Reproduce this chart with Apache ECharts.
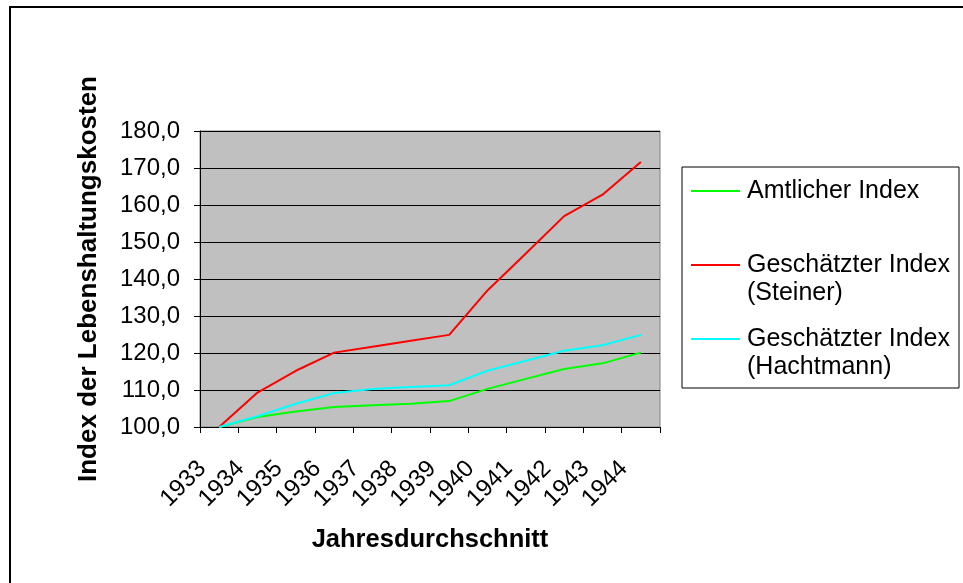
<!DOCTYPE html>
<html>
<head>
<meta charset="utf-8">
<script src="https://cdn.jsdelivr.net/npm/echarts@6/dist/echarts.min.js"></script>
<style>
  html, body { margin: 0; padding: 0; background: #fff; }
  #main { width: 963px; height: 583px; }
</style>
</head>
<body>
<div id="main"></div>
<script>
// Jahre (Kategorien)
var years = ['1933', '1934', '1935', '1936', '1937', '1938', '1939', '1940', '1941', '1942', '1943', '1944'];
// Amtlicher Index
var amtlich = [100.0, 102.7, 104.2, 105.4, 105.9, 106.3, 107.0, 110.3, 113.0, 115.7, 117.2, 120.1];
// Geschaetzter Index (Steiner)
var steiner = [100.0, 109.3, 115.2, 120.1, 121.7, 123.3, 124.9, 136.9, 146.9, 157.0, 162.8, 171.6];
// Geschaetzter Index (Hachtmann)
var hachtmann = [100.0, 102.9, 106.3, 109.2, 110.3, 110.8, 111.3, 115.2, 117.9, 120.6, 122.1, 124.9];

var seriesNames = ['Amtlicher Index', 'Geschätzter Index (Steiner)', 'Geschätzter Index (Hachtmann)'];
var font = '"Liberation Sans", Arial, sans-serif';

var chart = echarts.init(document.getElementById('main'));

function legendAt(name, top){
  return {
    data: [name],
    orient: 'vertical',
    left: 691,
    top: top,
    padding: 0,
    icon: 'rect',
    itemWidth: 49,
    itemHeight: 2,
    itemGap: 0,
    selectedMode: false,
    formatter: function(n){ return n.split(' (')[0]; },
    textStyle: { fontFamily: font, fontSize: 25, color: '#000', lineHeight: 28, padding: [0, 0, 0, 2] }
  };
}

var option = {
  animation: false,
  backgroundColor: '#fff',
  grid: {
    left: 200, top: 131, width: 460, height: 296,
    show: true,
    backgroundColor: '#c0c0c0',
    borderColor: '#808080',
    borderWidth: 1
  },
  legend: [
    legendAt(seriesNames[0], 177),
    legendAt(seriesNames[1], 251),
    legendAt(seriesNames[2], 325)
  ],
  xAxis: {
    type: 'category',
    data: years,
    boundaryGap: true,
    name: 'Jahresdurchschnitt',
    nameLocation: 'middle',
    nameGap: 100,
    nameTextStyle: { fontFamily: font, fontSize: 25.5, fontWeight: 'bold', color: '#000' },
    axisLine: { lineStyle: { color: '#000', width: 1 } },
    axisTick: { show: true, length: 6, lineStyle: { color: '#000' } },
    axisLabel: {
      interval: 0,
      rotate: 45,
      margin: 21,
      padding: [0, 24, 32, 0],
      fontFamily: font, fontSize: 24, color: '#000'
    },
    splitLine: { show: false }
  },
  yAxis: {
    type: 'value',
    min: 100,
    max: 180,
    interval: 10,
    name: 'Index der Lebenshaltungskosten',
    nameLocation: 'middle',
    nameGap: 98,
    nameTextStyle: { fontFamily: font, fontSize: 26, fontWeight: 'bold', color: '#000' },
    axisLine: { show: true, lineStyle: { color: '#000', width: 1 } },
    axisTick: { show: true, length: 6, lineStyle: { color: '#000' } },
    axisLabel: {
      margin: 20,
      fontFamily: font, fontSize: 24, color: '#000',
      formatter: function(v){ return v.toFixed(1).replace('.', ','); }
    },
    splitLine: { show: true, lineStyle: { color: '#000', width: 1 } }
  },
  series: [
    { name: seriesNames[0], type: 'line', data: amtlich, symbol: 'none', color: '#00ff00', lineStyle: { width: 2, color: '#00ff00' } },
    { name: seriesNames[1], type: 'line', data: steiner, symbol: 'none', color: '#ff0000', lineStyle: { width: 2, color: '#ff0000' } },
    { name: seriesNames[2], type: 'line', data: hachtmann, symbol: 'none', color: '#00ffff', lineStyle: { width: 2, color: '#00ffff' } }
  ],
  graphic: [
    // aeusserer Rahmen
    { type: 'rect', z: -1, shape: { x: 10, y: 7, width: 1000, height: 1000 }, style: { fill: 'none', stroke: '#000', lineWidth: 2 } },
    // Legendenrahmen
    { type: 'rect', z: -1, shape: { x: 682, y: 167, width: 277, height: 221 }, style: { fill: '#fff', stroke: '#000', lineWidth: 1 } },
    // zweite Zeilen der Legende
    { type: 'text', left: 747, top: 281, style: { text: '(Steiner)', font: '25px ' + font, fill: '#000' } },
    { type: 'text', left: 747, top: 355, style: { text: '(Hachtmann)', font: '25px ' + font, fill: '#000' } }
  ]
};

chart.setOption(option);
</script>
</body>
</html>
